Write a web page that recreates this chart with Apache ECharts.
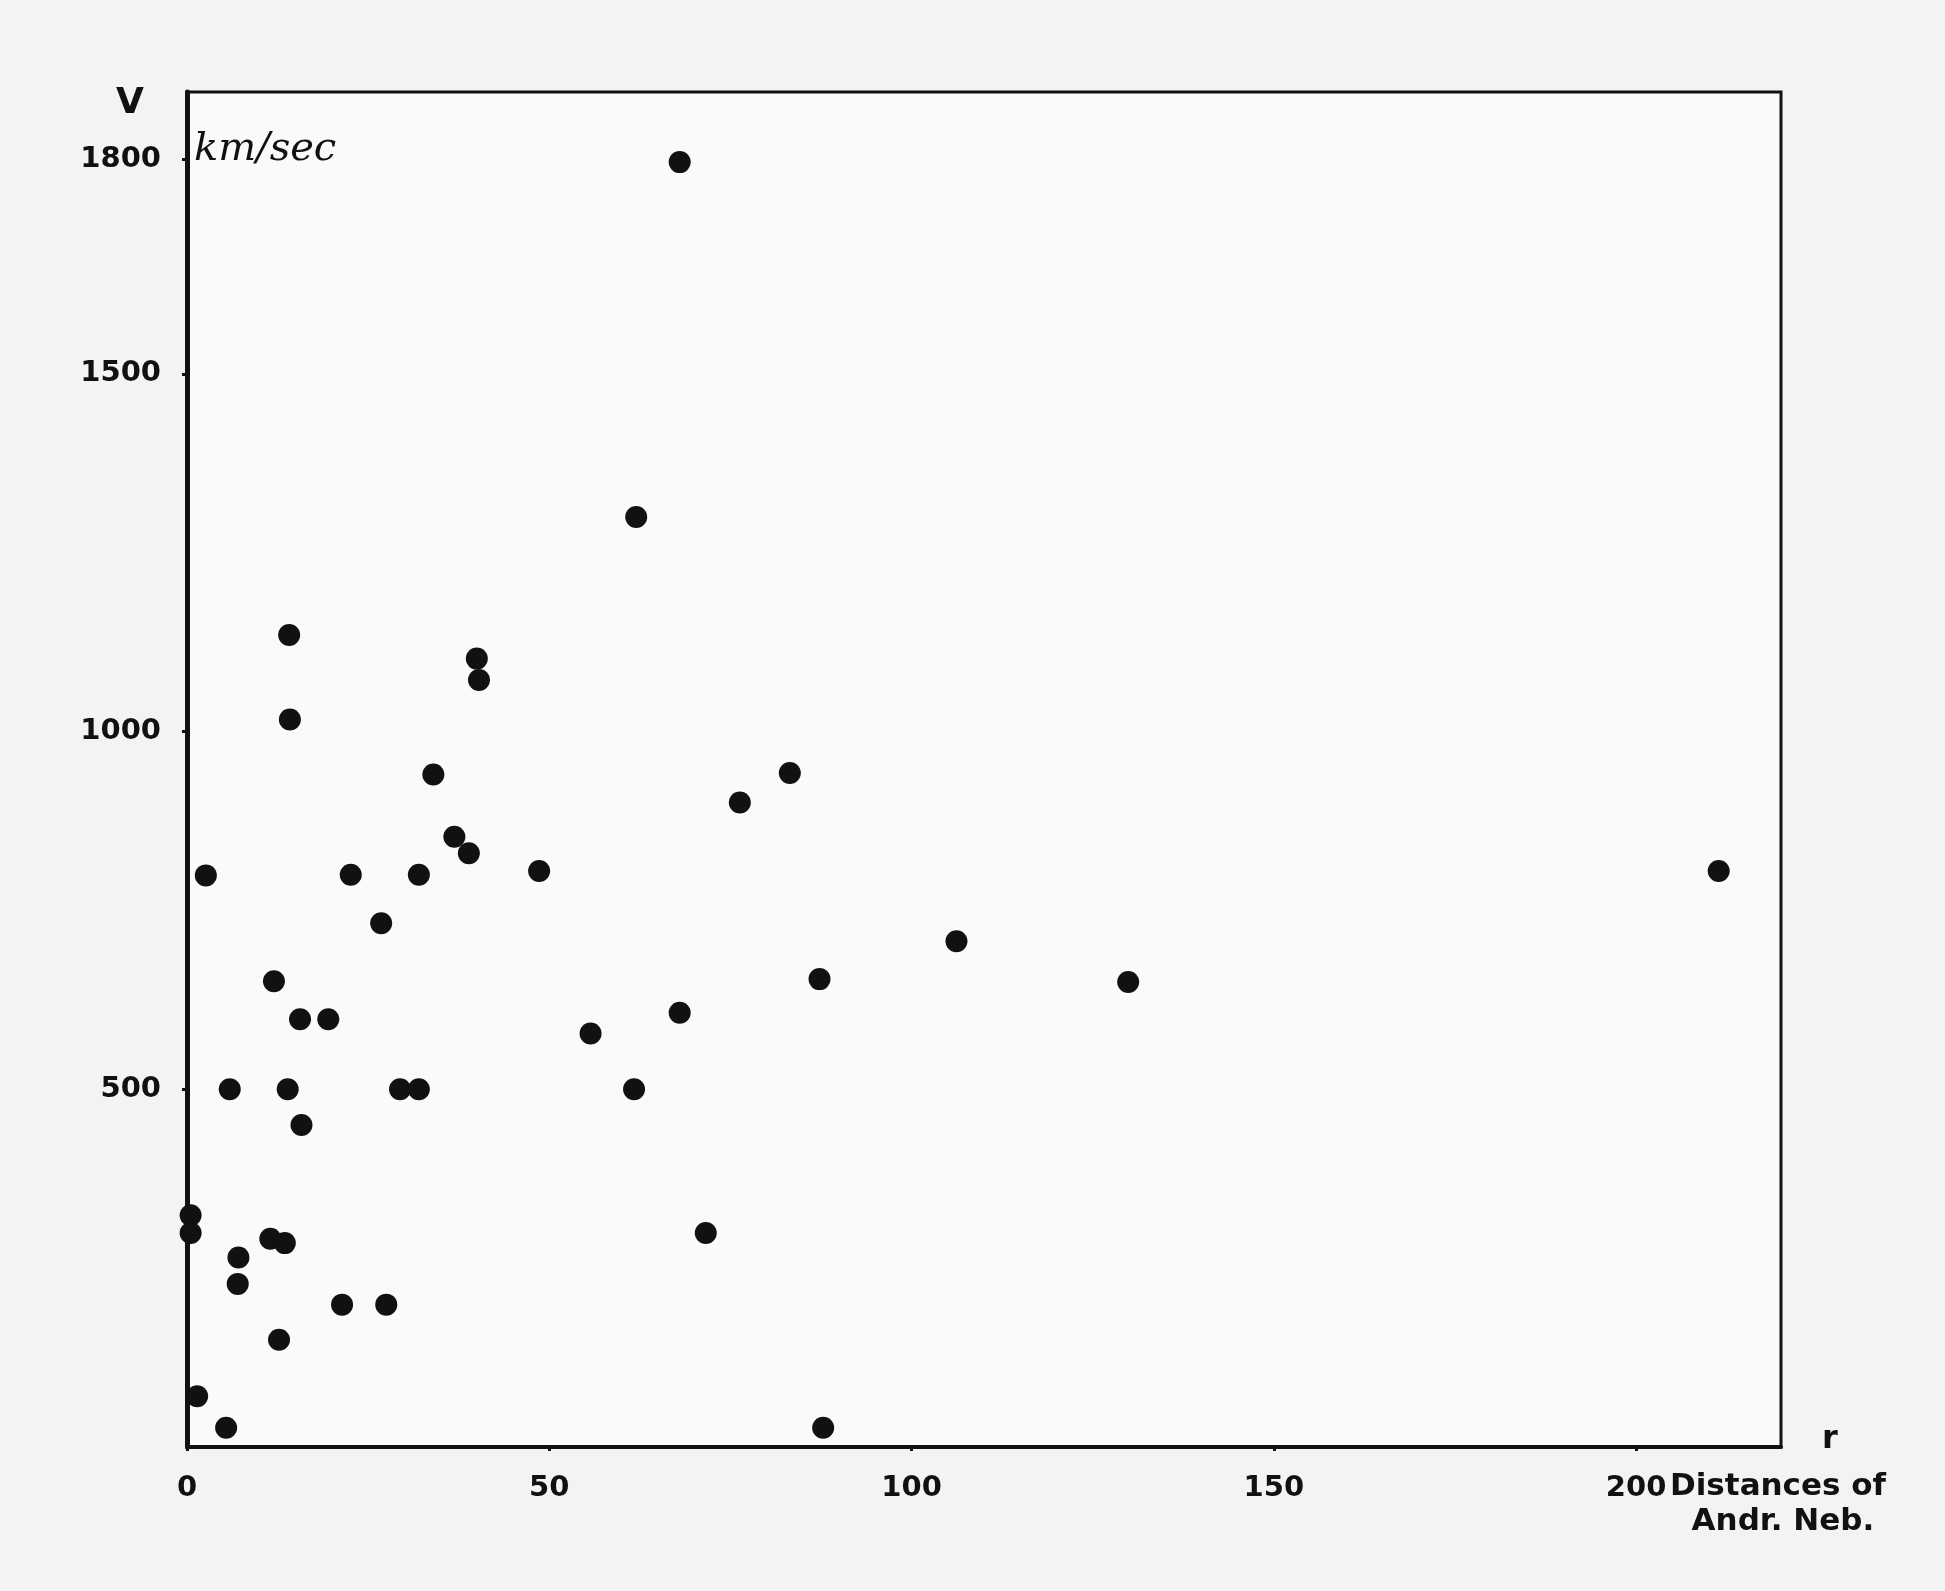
<!DOCTYPE html>
<html>
<head>
<meta charset="utf-8">
<script src="https://cdn.jsdelivr.net/npm/echarts@6/dist/echarts.min.js"></script>
<style>
  html, body { margin: 0; padding: 0; background: #f3f3f3; }
  #chart { width: 1945px; height: 1591px; }
</style>
</head>
<body>
<div id="chart"></div>
<script>
// distances of the nebulae (r) and radial velocities (V, km/sec)
const distances = [
  68, 62, 14.1, 40, 40.3, 14.2, 34, 76.3, 83.2, 36.9,
  38.9, 2.6, 22.6, 32, 48.6, 211.4, 26.8, 106.2, 12, 87.3,
  129.9, 15.6, 19.5, 68, 55.7, 5.9, 13.9, 29.4, 32, 61.7,
  15.8, 0.5, 0.5, 11.5, 13.5, 71.6, 7.1, 7, 21.4, 27.5,
  12.7, 1.4, 5.4, 87.8
];
const velocities = [
  1796, 1300, 1135, 1102, 1072, 1017, 940, 901, 942, 853,
  830, 799, 800, 800, 805, 805, 732, 707, 651, 654,
  650, 598, 598, 607, 578, 500, 500, 500, 500, 500,
  450, 324, 299, 291, 285, 299, 265, 228, 199, 199,
  150, 71, 27, 27
];
const xTicks = [0, 50, 100, 150, 200];
const yTicks = [500, 1000, 1500, 1800];

const points = distances.map((d, i) => [d, velocities[i]]);

const labelFont = 'DejaVu Sans';
const ink = '#111111';

const chart = echarts.init(document.getElementById('chart'));

const option = {
  backgroundColor: '#f3f3f3',
  animation: false,
  grid: {
    left: 187,
    right: 164,
    top: 92,
    bottom: 144,
    show: true,
    backgroundColor: '#fafafa',
    borderColor: ink,
    borderWidth: 3
  },
  xAxis: {
    type: 'value',
    min: 0,
    max: 220,
    interval: 50,
    splitLine: { show: false },
    axisLine: { show: true, lineStyle: { color: ink, width: 4 } },
    axisTick: { show: true, length: 4, customValues: xTicks, lineStyle: { color: ink, width: 3 } },
    axisLabel: {
      customValues: xTicks,
      formatter: v => String(v),
      color: ink,
      fontFamily: labelFont,
      fontWeight: 'bold',
      fontSize: 29,
      margin: 27
    }
  },
  yAxis: {
    type: 'value',
    min: 0,
    max: 1894,
    interval: 500,
    splitLine: { show: false },
    axisLine: { show: true, lineStyle: { color: ink, width: 5 } },
    axisTick: { show: true, length: 5, customValues: yTicks, lineStyle: { color: ink, width: 3 } },
    axisLabel: {
      customValues: yTicks,
      formatter: v => String(v),
      color: ink,
      fontFamily: labelFont,
      fontWeight: 'bold',
      fontSize: 29,
      margin: 26
    }
  },
  graphic: [
    {
      type: 'text', left: 116, top: 86,
      style: { text: 'V', fill: ink, font: 'bold 36px "DejaVu Sans"' }
    },
    {
      type: 'text', left: 194, top: 130,
      style: { text: 'km/sec', fill: ink, font: 'italic 40px "DejaVu Serif"' }
    },
    {
      type: 'text', left: 1822, top: 1424,
      style: { text: 'r', fill: ink, font: 'bold 32px "DejaVu Sans"' }
    },
    {
      type: 'text', left: 1670, top: 1469,
      style: {
        text: 'Distances of\n  Andr. Neb.',
        fill: ink,
        font: 'bold 31px "DejaVu Sans"',
        lineHeight: 35
      }
    }
  ],
  series: [{
    type: 'scatter',
    data: points,
    symbol: 'circle',
    symbolSize: 22,
    itemStyle: { color: ink, opacity: 1 },
    clip: false
  }]
};

chart.setOption(option);
</script>
</body>
</html>
